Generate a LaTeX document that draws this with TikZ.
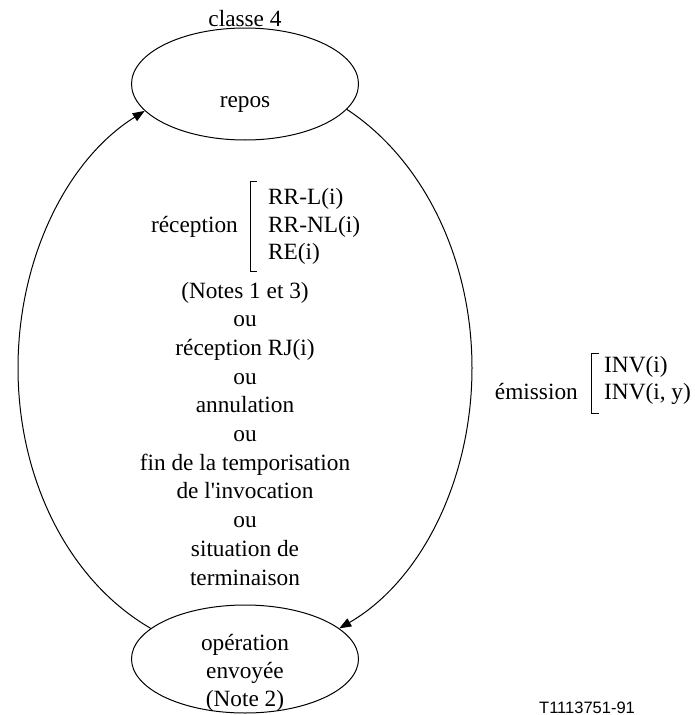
\documentclass[tikz,border=0pt]{standalone}
\usepackage{fontspec}
\setmainfont{Liberation Serif}
\newfontfamily\labelsans{Liberation Sans}
\usetikzlibrary{shapes.geometric,arrows.meta}
\begin{document}
\begin{tikzpicture}[x=1pt,y=-1pt,
  state/.style={ellipse,draw,line width=1pt,inner sep=0pt},
  txt/.style={inner sep=0pt,anchor=base,font=\fontsize{23.3}{28}\selectfont},
  trans/.style={line width=1pt,-{Triangle[length=12pt,width=9pt]}},
  brk/.style={line width=0.9pt}]
\useasboundingbox (0,0) rectangle (695,715);

% states
\node[state,minimum width=227pt,minimum height=112pt] (repos) at (245,84) {};
\node[state,minimum width=227pt,minimum height=108pt] (envoi) at (245,659) {};
\node[txt] (cls) at (245,26) {classe 4};
\node[txt] (reposlbl) at (245,107) {repos};
\node[txt] (env1) at (245,650) {opération};
\node[txt] (env2) at (245,678) {envoyée};
\node[txt] (env3) at (245,706) {(Note 2)};

% transitions
\coordinate (westmid) at (18,368);
\coordinate (eastmid) at (472,368);
\draw[trans] (envoi.162) .. controls (68.6,580.8) and (18,479.4) .. (westmid)
  .. controls (18,259.3) and (66.3,159.9) .. (repos.195);
\draw[trans] (repos.346) .. controls (423.7,159.9) and (472,259.3) .. (eastmid)
  .. controls (472,479.4) and (421.4,580.8) .. (envoi.18);

% return conditions
\node[txt,anchor=base east] (recep) at (238,232) {réception};
\draw[brk] (257,181) -- (250,181) -- (250,271) -- (257,271);
\node[txt,anchor=base west] (rrl) at (268,204) {RR-L(i)};
\node[txt,anchor=base west] (rrnl) at (268,232) {RR-NL(i)};
\node[txt,anchor=base west] (re) at (268,259) {RE(i)};
\node[txt] (c0) at (245,298) {(Notes 1 et 3)};
\node[txt] (c1) at (245,326.7) {ou};
\node[txt] (c2) at (245,355.4) {réception RJ(i)};
\node[txt] (c3) at (245,384.1) {ou};
\node[txt] (c4) at (245,412.8) {annulation};
\node[txt] (c5) at (245,441.5) {ou};
\node[txt] (c6) at (245,470.2) {fin de la temporisation};
\node[txt] (c7) at (245,498.9) {de l\textquotesingle invocation};
\node[txt] (c8) at (245,527.6) {ou};
\node[txt] (c9) at (245,556.3) {situation de};
\node[txt] (c10) at (245,585) {terminaison};

% emission
\node[txt,anchor=base east] (emis) at (578,399) {émission};
\draw[brk] (599,353) -- (591,353) -- (591,413) -- (599,413);
\node[txt,anchor=base west] (inv1) at (604,372) {INV(i)};
\node[txt,anchor=base west] (inv2) at (604,399) {INV(i, y)};

\node[anchor=base west,inner sep=0pt,font=\labelsans\fontsize{16.5}{20}\selectfont] (ref) at (539,713) {T1113751-91};
\end{tikzpicture}
\end{document}
